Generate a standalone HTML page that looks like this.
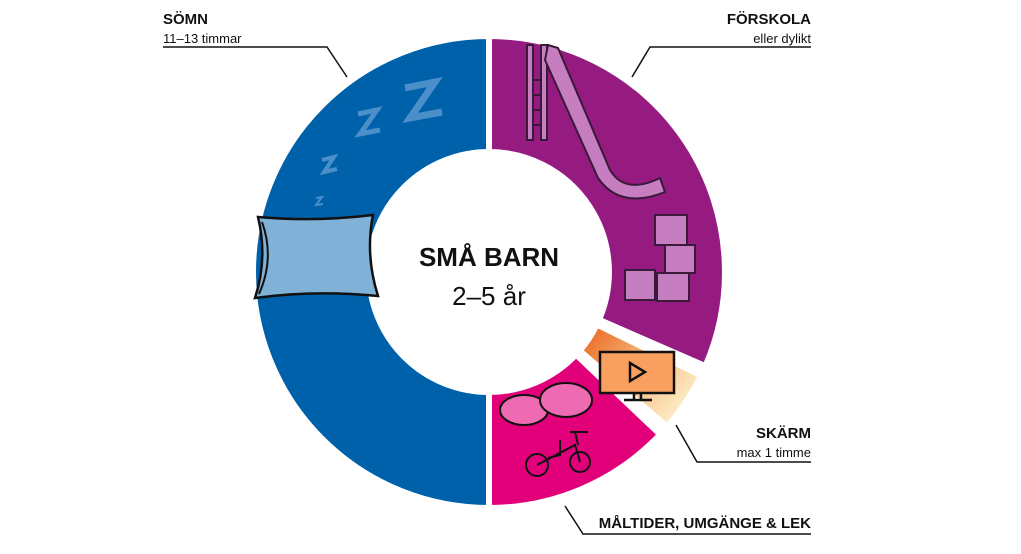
<!DOCTYPE html>
<html><head><meta charset="utf-8"><style>
body{margin:0;background:#fff;width:1021px;height:554px;overflow:hidden;font-family:"Liberation Sans",sans-serif}
svg{position:absolute;left:0;top:0}
</style></head><body>
<svg width="1021" height="554" viewBox="0 0 1021 554" xmlns="http://www.w3.org/2000/svg">
<defs>
<linearGradient id="g" x1="585" y1="340" x2="680" y2="420" gradientUnits="userSpaceOnUse">
<stop offset="0" stop-color="#ec6f2a"/><stop offset="0.45" stop-color="#f6b57a"/><stop offset="1" stop-color="#fdf1cc"/></linearGradient>
</defs>
<g id="segs" stroke="#fff" stroke-width="6"></g>
<text x="489" y="266" text-anchor="middle" font-size="26" font-weight="bold" fill="#111">SMÅ BARN</text>
<text x="489" y="305" text-anchor="middle" font-size="26" fill="#111">2–5 år</text>
<!-- zzz -->
<g fill="none" stroke="#6aa3d6" stroke-width="7" opacity="0.7">
<path d="M405 88 L435 82 L410 118 L442 112"/>
<path d="M358 114 L377 110 L360 134 L380 130" stroke-width="5"/>
<path d="M322 160 L334 157 L324 172 L337 169" stroke-width="4"/>
<path d="M316 198 L322 197 L316 205 L323 204" stroke-width="2"/>
</g>
<!-- pillow -->
<path d="M258 217 Q315 222 373 215 Q365 255 378 296 Q315 290 255 298 Q268 258 258 217Z" fill="#80b2d8" stroke="#111" stroke-width="2.5"/>
<path d="M262 222 Q275 258 259 294" fill="none" stroke="#111" stroke-width="2"/>
<!-- slide -->
<g stroke="#3a1a3a" stroke-width="2" fill="#c77ec0">
<path d="M527 45 L533 45 L533 140 L527 140Z"/>
<path d="M541 45 L547 45 L547 140 L541 140Z"/>
<path d="M548 45 L558 48 L610 170 Q625 195 660 178 L665 192 Q620 210 598 178 L545 60Z"/>
<path d="M533 80 L541 80 M533 95 L541 95 M533 110 L541 110 M533 125 L541 125" fill="none"/>
</g>
<!-- cubes -->
<g stroke="#3a1a3a" stroke-width="2" fill="#c77ec0">
<rect x="655" y="215" width="32" height="30"/><rect x="665" y="245" width="30" height="28"/>
<rect x="625" y="270" width="30" height="30"/><rect x="657" y="273" width="32" height="28"/>
</g>
<!-- monitor -->
<rect x="600" y="352" width="74" height="41" fill="#f9a060" stroke="#111" stroke-width="2.5"/>
<path d="M630 363 L630 381 L645 372Z" fill="none" stroke="#111" stroke-width="2.5"/>
<path d="M634 393 V400 M641 393 V400 M624 400 H652" stroke="#111" stroke-width="2.5"/>
<!-- bubbles -->
<ellipse cx="524" cy="410" rx="24" ry="15" fill="#ee6bb4" stroke="#111" stroke-width="2"/>
<ellipse cx="566" cy="400" rx="26" ry="17" fill="#ee6bb4" stroke="#111" stroke-width="2"/>
<!-- tricycle -->
<g fill="none" stroke="#111" stroke-width="2">
<circle cx="537" cy="465" r="11"/><circle cx="580" cy="462" r="10"/>
<path d="M537 465 L575 445 L580 462 M560 440 L560 455 L548 458 M570 432 L588 432 M575 432 L578 445"/>
</g>
<!-- labels -->
<g fill="#111" font-size="13">
<text x="163" y="24" font-weight="bold" font-size="15">SÖMN</text>
<text x="163" y="43">11–13 timmar</text>
<text x="811" y="24" text-anchor="end" font-weight="bold" font-size="15">FÖRSKOLA</text>
<text x="811" y="43" text-anchor="end">eller dylikt</text>
<text x="811" y="438" text-anchor="end" font-weight="bold" font-size="15">SKÄRM</text>
<text x="811" y="457" text-anchor="end">max 1 timme</text>
<text x="811" y="528" text-anchor="end" font-weight="bold" font-size="15">MÅLTIDER, UMGÄNGE &amp; LEK</text>
</g>
<g fill="none" stroke="#111" stroke-width="1.5">
<path d="M163 47 H327 L347 77"/>
<path d="M811 47 H650 L632 77"/>
<path d="M811 462 H697 L676 425"/>
<path d="M811 534 H583 L565 506"/>
</g>
</svg>
<script>
var cx=489,cy=272,R=236,r=120;
function p(a,rad){a=a*Math.PI/180;return [(cx+rad*Math.sin(a)).toFixed(1),(cy-rad*Math.cos(a)).toFixed(1)];}
function seg(a1,a2,fill){var l=(a2-a1)>180?1:0;var A=p(a1,R),B=p(a2,R),C=p(a2,r),D=p(a1,r);
return '<path fill="'+fill+'" d="M'+A+' A'+R+' '+R+' 0 '+l+' 1 '+B+' L'+C+' A'+r+' '+r+' 0 '+l+' 0 '+D+'Z"/>';}
document.getElementById('segs').innerHTML=seg(180,360,'#0061ab')+seg(0,113.5,'#951b81')+seg(116,131,'url(#g)')+seg(133.5,180,'#e2007a');
</script>
</body></html>
